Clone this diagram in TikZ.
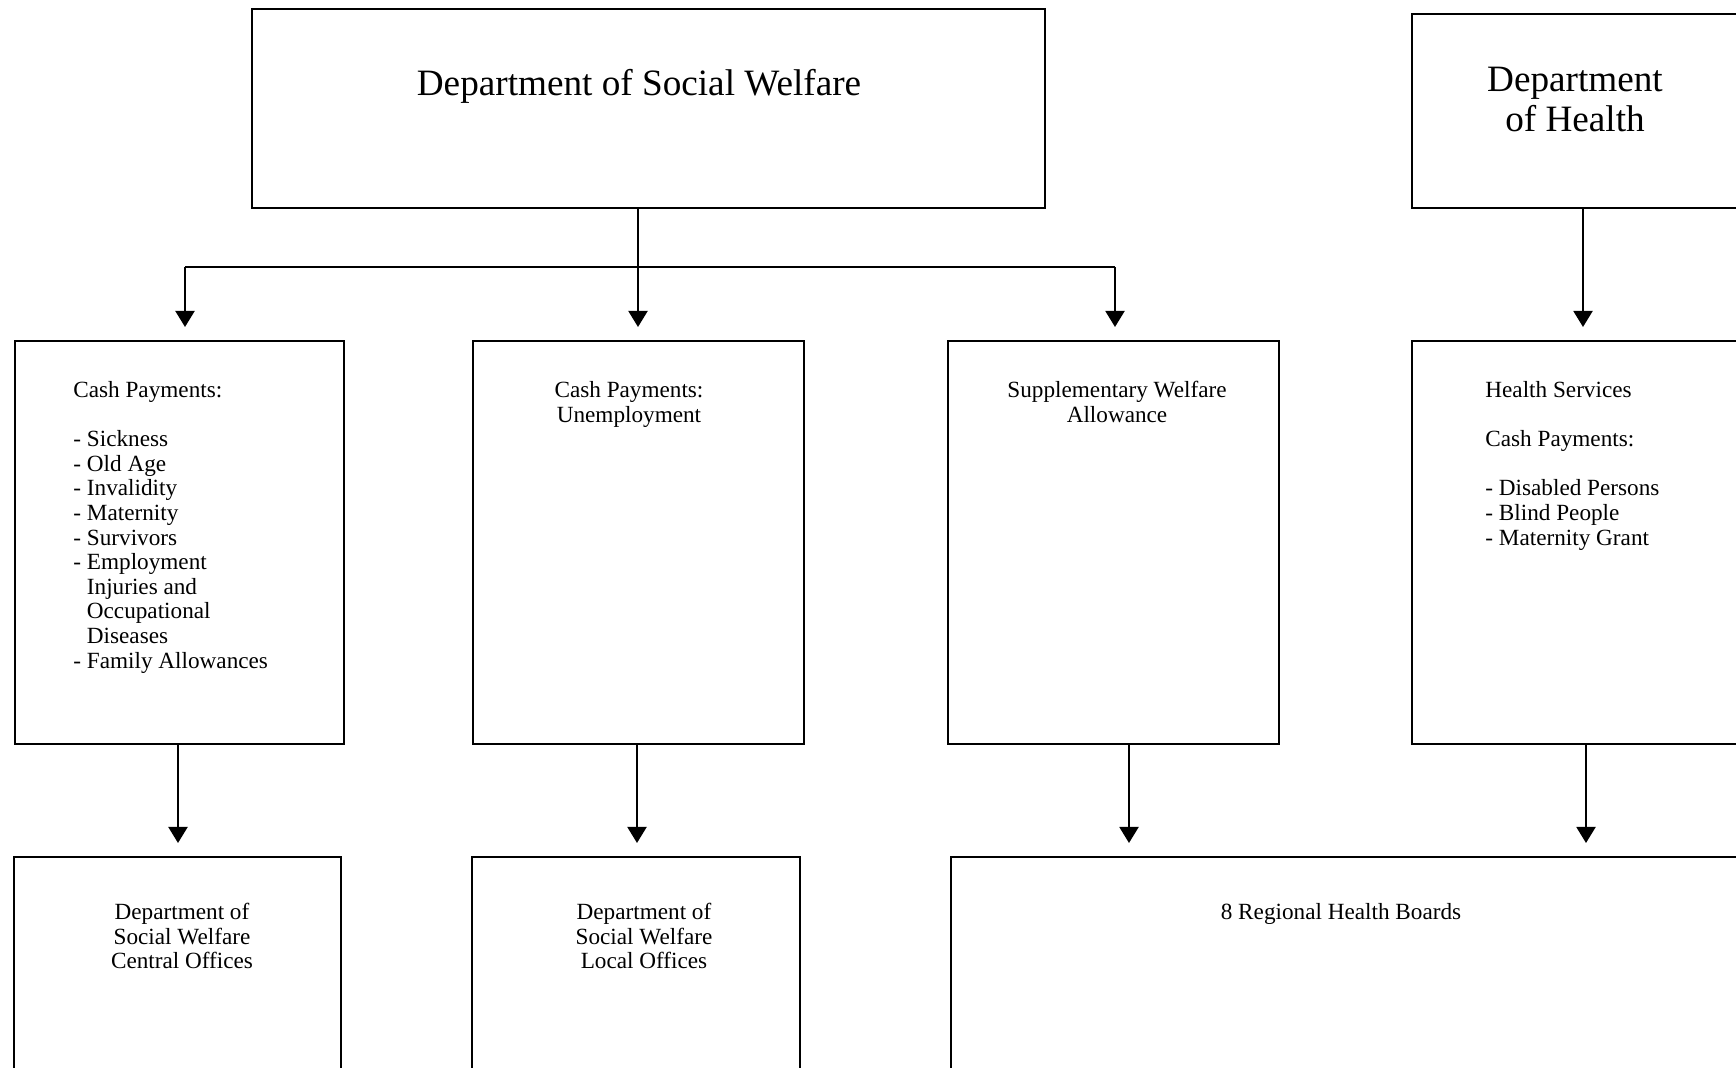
\documentclass[tikz,border=0pt]{standalone}
\usepackage{fontspec}
\setmainfont{Liberation Serif}
\usetikzlibrary{arrows.meta,fit}
\begin{document}
\begin{tikzpicture}[x=0.5pt,y=-0.5pt,
  orgbox/.style={draw, line width=1pt, inner sep=0pt, rectangle},
  bigtext/.style={font=\fontsize{18.6}{20}\selectfont, inner sep=0pt, align=center},
  smalltext/.style={font=\fontsize{11.6}{12.3}\selectfont, inner sep=0pt},
  link/.style={line width=1pt},
  arr/.style={line width=1pt, -{Triangle[length=8pt,width=9.5pt]}, shorten >=6.5pt}]

% page frame
\useasboundingbox (0,0) rectangle (1736,1068);
\fill[white] (0,0) rectangle (1736,1068);
\clip (0,0) rectangle (1736,1068);

% top level
\node[orgbox, fit={(252,9) (1045,208)}] (dsw) {};
\node[bigtext] (dswt) at (639,86) {Department of Social Welfare};
\node[orgbox, fit={(1412,14) (1760,208)}] (doh) {};
\node[bigtext, anchor=north] (doht) at (1575,67) {Department\\of Health};

% second level
\node[orgbox, fit={(15,341) (344,744)}] (cashA) {};
\node[smalltext, anchor=north west, align=left] (cashAt) at (73,381)
  {Cash Payments:\\[12.3pt]
   - Sickness\\
   - Old Age\\
   - Invalidity\\
   - Maternity\\
   - Survivors\\
   - Employment\\
   \hphantom{- }Injuries and\\
   \hphantom{- }Occupational\\
   \hphantom{- }Diseases\\
   - Family Allowances};

\node[orgbox, fit={(473,341) (804,744)}] (cashB) {};
\node[smalltext, anchor=north, align=center] (cashBt) at (629,381)
  {Cash Payments:\\Unemployment};

\node[orgbox, fit={(948,341) (1279,744)}] (suppl) {};
\node[smalltext, anchor=north, align=center] (supplt) at (1117,381)
  {Supplementary Welfare\\Allowance};

\node[orgbox, fit={(1412,341) (1760,744)}] (health) {};
\node[smalltext, anchor=north west, align=left] (healtht) at (1485,381)
  {Health Services\\[12.3pt]
   Cash Payments:\\[12.3pt]
   - Disabled Persons\\
   - Blind People\\
   - Maternity Grant};

% third level
\node[orgbox, fit={(14,857) (341,1090)}] (central) {};
\node[smalltext, anchor=north, align=center] (centralt) at (182,903)
  {Department of\\Social Welfare\\Central Offices};

\node[orgbox, fit={(472,857) (800,1090)}] (local) {};
\node[smalltext, anchor=north, align=center] (localt) at (644,903)
  {Department of\\Social Welfare\\Local Offices};

\node[orgbox, fit={(951,857) (1760,1090)}] (boards) {};
\node[smalltext, anchor=north, align=center] (boardst) at (1341,903)
  {8 Regional Health Boards};

% connectors from the Department of Social Welfare
\coordinate (jn) at (638,267);
\coordinate (jl) at (185,267);
\coordinate (jr) at (1115,267);
\draw[link] (jl) -- (jr);
\draw[arr] (dsw.south -| jn) -- (jn |- cashB.north);
\draw[arr] (jl) -- (jl |- cashA.north);
\draw[arr] (jr) -- (jr |- suppl.north);

% connector from the Department of Health
\coordinate (hx) at (1583,0);
\draw[arr] (doh.south -| hx) -- (hx |- health.north);

% connectors to the delivery bodies
\coordinate (xa) at (178,0);
\coordinate (xb) at (637,0);
\coordinate (xc) at (1129,0);
\coordinate (xd) at (1586,0);
\draw[arr] (cashA.south -| xa) -- (xa |- central.north);
\draw[arr] (cashB.south -| xb) -- (xb |- local.north);
\draw[arr] (suppl.south -| xc) -- (xc |- boards.north);
\draw[arr] (health.south -| xd) -- (xd |- boards.north);
\end{tikzpicture}
\end{document}
